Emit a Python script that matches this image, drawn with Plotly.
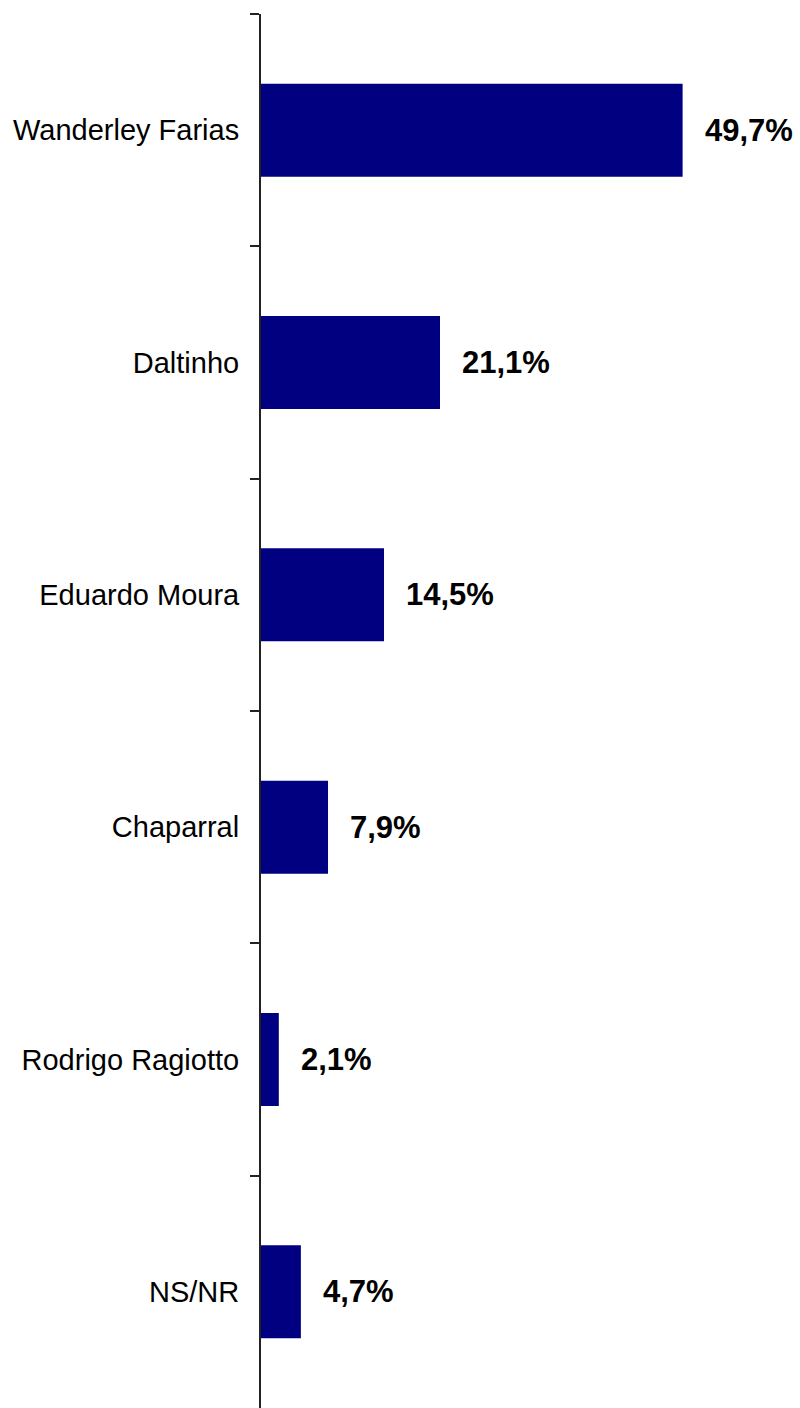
import plotly.graph_objects as go

categories = ["Wanderley Farias", "Daltinho", "Eduardo Moura", "Chaparral", "Rodrigo Ragiotto", "NS/NR"]
values = [49.7, 21.1, 14.5, 7.9, 2.1, 4.7]
labels = ["49,7%", "21,1%", "14,5%", "7,9%", "2,1%", "4,7%"]

FONT = "Arial, Liberation Sans, sans-serif"

fig = go.Figure()
fig.add_trace(go.Bar(
    x=values, y=categories, orientation="h",
    marker=dict(color="#000080", line=dict(width=0)),
    hoverinfo="skip",
))

for v, c, t in zip(values, categories, labels):
    fig.add_annotation(x=v, y=c, text=f"<b>{t}</b>", showarrow=False,
                       xanchor="left", yanchor="middle", xshift=20,
                       font=dict(family=FONT, size=31, color="black"))

fig.update_layout(
    width=800, height=1408,
    margin=dict(l=261, r=30, t=14, b=0),
    plot_bgcolor="white", paper_bgcolor="white",
    bargap=0.6, showlegend=False,
    font=dict(family=FONT, size=29, color="black"),
)
fig.update_xaxes(range=[0, 60], visible=False, showgrid=False, zeroline=False)
fig.update_yaxes(
    autorange="reversed", showgrid=False, zeroline=False,
    showline=True, linecolor="#222222", linewidth=2,
    ticks="outside", ticklen=9, tickwidth=2, tickcolor="#222222",
    tickson="boundaries", ticklabelstandoff=14,
    tickfont=dict(family=FONT, size=29, color="black"),
)

fig.write_html("out.html",
               config={"displayModeBar": False},
               post_script="document.body.style.margin='0';document.body.style.padding='0';")
